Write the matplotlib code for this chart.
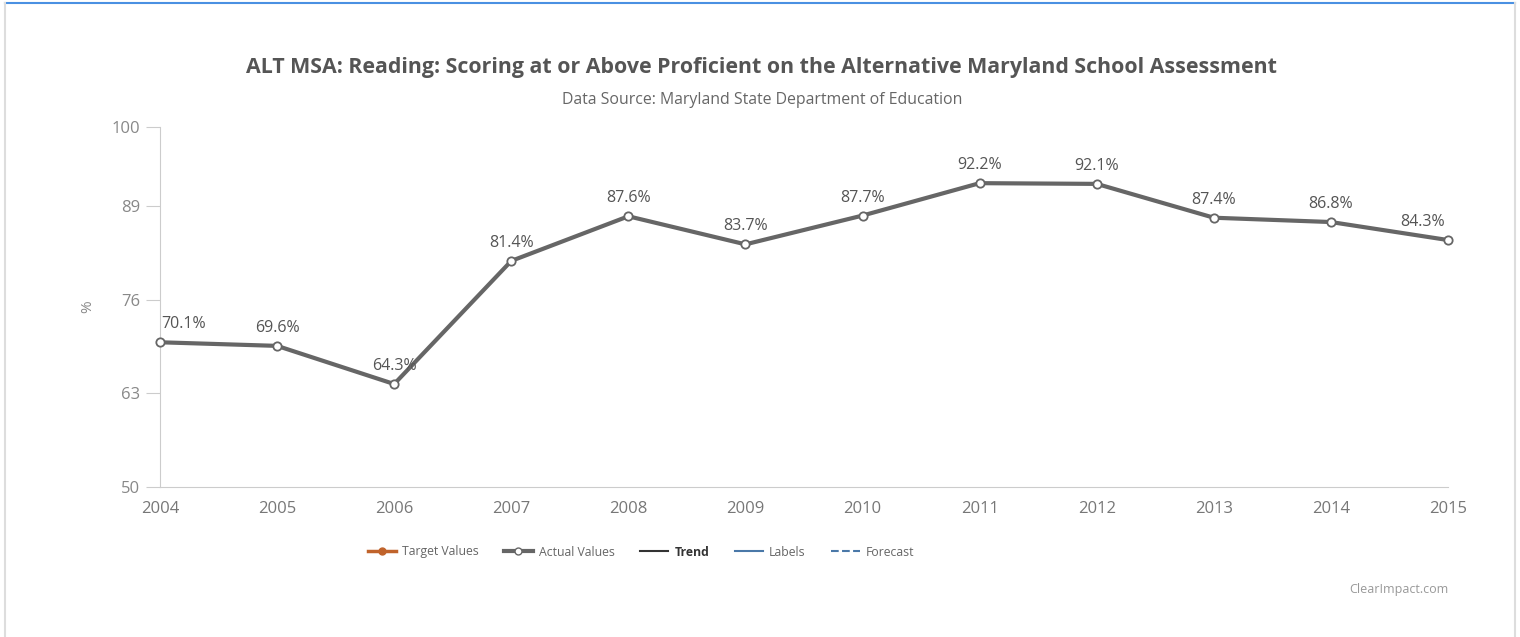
import matplotlib
matplotlib.use("Agg")
import matplotlib.pyplot as plt
from matplotlib.lines import Line2D
import numpy as np

plt.rcParams['font.family'] = ['Open Sans', 'DejaVu Sans']

#-------------------- DATA -------------------#
years = [2004, 2005, 2006, 2007, 2008, 2009, 2010, 2011, 2012, 2013, 2014, 2015]
actual = [70.1, 69.6, 64.3, 81.4, 87.6, 83.7, 87.7, 92.2, 92.1, 87.4, 86.8, 84.3]
y_ticks = [50, 63, 76, 89, 100]
legend_names = ['Target Values', 'Actual Values', 'Trend', 'Labels', 'Forecast']

#-------------------- FIGURE -------------------#
fig = plt.figure(figsize=(15.2, 6.37), dpi=100)
fig.patch.set_facecolor('white')
ax = fig.add_axes([160/1520, 150/637, 1288/1520, 360/637])

line_col = '#666666'
ax.plot(years, actual, color=line_col, lw=3.0, marker='o', ms=6,
        mfc='white', mec=line_col, mew=1.3, clip_on=False, zorder=3)

# data labels: first/last kept inside the plot area
for i, (x, y) in enumerate(zip(years, actual)):
    ha, dx = 'center', 0
    if i == 0:
        ha, dx = 'left', 1
    elif i == len(years) - 1:
        ha, dx = 'right', -2
    ax.annotate('%.1f%%' % y, (x, y), xytext=(dx, 13), textcoords='offset points',
                ha=ha, va='center', fontsize=11.5, color='#555555')

ax.set_xlim(years[0], years[-1])
ax.set_ylim(50, 100)
ax.set_xticks(years)
ax.set_yticks(y_ticks)
ax.tick_params(axis='x', length=0, pad=10, labelsize=12, labelcolor='#777777')
ax.tick_params(axis='y', length=10, width=0.8, color='#cccccc', pad=4,
               labelsize=12, labelcolor='#888888')
for s in ['top', 'right']:
    ax.spines[s].set_visible(False)
ax.spines['left'].set_color('#cccccc')
ax.spines['bottom'].set_color('#cccccc')
ax.set_ylabel('%', color='#888888', fontsize=11, labelpad=12)

#-------------------- TITLES -------------------#
fig.text(762/1520, 1 - 68/637, 'ALT MSA: Reading: Scoring at or Above Proficient on the Alternative Maryland School Assessment',
         ha='center', va='center', fontsize=15.4, fontweight='bold', color='#555555')
fig.text(762/1520, 1 - 100/637, 'Data Source: Maryland State Department of Education',
         ha='center', va='center', fontsize=11.4, color='#666666')
fig.text(1448/1520, 1 - 590/637, 'ClearImpact.com', ha='right', va='center',
         fontsize=9, color='#999999')

#-------------------- LEGEND -------------------#
handles = [
    Line2D([], [], color='#c0632b', lw=2.5, marker='o', ms=5, markevery=[1]),
    Line2D([], [], color=line_col, lw=3, marker='o', ms=5, mfc='white', mec=line_col),
    Line2D([], [], color='#333333', lw=1.5),
    Line2D([], [], color='#4a78a8', lw=1.5),
    Line2D([], [], color='#4a78a8', lw=1.5, ls='--'),
]
leg = fig.legend(handles, legend_names, loc='center', bbox_to_anchor=(641/1520, 1 - 552/637),
                 ncol=5, frameon=False, fontsize=8.8, handlelength=2.3, columnspacing=2.1,
                 handletextpad=0.5)
for t in leg.get_texts():
    t.set_color('#666666')
leg.get_texts()[2].set_fontweight('bold')
leg.get_texts()[2].set_color('#333333')

#-------------------- FRAME -------------------#
fig.add_artist(Line2D([5/1520, 1515/1520], [1 - 3/637, 1 - 3/637], color='#4a90e2', lw=1.5))
fig.add_artist(Line2D([5/1520, 5/1520], [0, 1 - 3/637], color='#dddddd', lw=1.5))
fig.add_artist(Line2D([1515/1520, 1515/1520], [0, 1 - 3/637], color='#dddddd', lw=1.5))

plt.savefig('out.png', dpi=100)
